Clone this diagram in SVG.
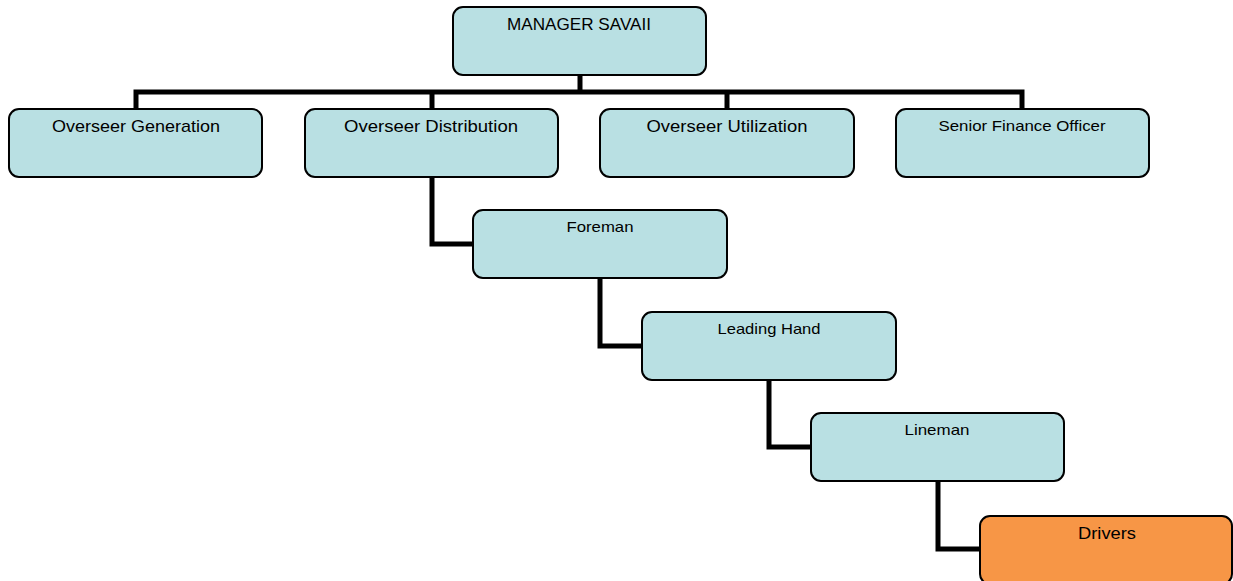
<svg xmlns="http://www.w3.org/2000/svg" width="1233" height="581" viewBox="0 0 1233 581">
<style>
.box{fill:#b9e0e3;stroke:#000;stroke-width:2}
.orange{fill:#f79646;stroke:#000;stroke-width:2}
.lbl{font-family:"Liberation Sans","Open Sans",sans-serif;fill:#000;text-anchor:middle}
.l16{font-size:17px}
.l14{font-size:15px}
.conn{fill:none;stroke:#000;stroke-width:5}
</style>
<rect width="1233" height="581" fill="#fff"/>
<g id="connectors">
<path class="conn" d="M580,75 V92"/>
<path class="conn" d="M136,109 V92 H1022 V109"/>
<path class="conn" d="M432,92 V109"/>
<path class="conn" d="M727,92 V109"/>
<path class="conn" d="M432,177 V244 H473"/>
<path class="conn" d="M600,278 V346 H642"/>
<path class="conn" d="M769,380 V447 H811"/>
<path class="conn" d="M938,481 V549 H980"/>
</g>
<g id="manager">
<rect class="box" x="453" y="7" width="253" height="68" rx="10"/>
<text class="lbl l16" x="579" y="30" textLength="144" lengthAdjust="spacingAndGlyphs">MANAGER SAVAII</text>
</g>
<g id="overseer-generation">
<rect class="box" x="9" y="109" width="253" height="68" rx="10"/>
<text class="lbl l16" x="136" y="132" textLength="168" lengthAdjust="spacingAndGlyphs">Overseer Generation</text>
</g>
<g id="overseer-distribution">
<rect class="box" x="305" y="109" width="253" height="68" rx="10"/>
<text class="lbl l16" x="431" y="132" textLength="174" lengthAdjust="spacingAndGlyphs">Overseer Distribution</text>
</g>
<g id="overseer-utilization">
<rect class="box" x="600" y="109" width="254" height="68" rx="10"/>
<text class="lbl l16" x="727" y="132" textLength="161" lengthAdjust="spacingAndGlyphs">Overseer Utilization</text>
</g>
<g id="senior-finance-officer">
<rect class="box" x="896" y="109" width="253" height="68" rx="10"/>
<text class="lbl l14" x="1022" y="131" textLength="167" lengthAdjust="spacingAndGlyphs">Senior Finance Officer</text>
</g>
<g id="foreman">
<rect class="box" x="473" y="210" width="254" height="68" rx="10"/>
<text class="lbl l14" x="600" y="232" textLength="67" lengthAdjust="spacingAndGlyphs">Foreman</text>
</g>
<g id="leading-hand">
<rect class="box" x="642" y="312" width="254" height="68" rx="10"/>
<text class="lbl l14" x="769" y="334" textLength="103" lengthAdjust="spacingAndGlyphs">Leading Hand</text>
</g>
<g id="lineman">
<rect class="box" x="811" y="413" width="253" height="68" rx="10"/>
<text class="lbl l14" x="937" y="435" textLength="65" lengthAdjust="spacingAndGlyphs">Lineman</text>
</g>
<g id="drivers">
<rect class="orange" x="980" y="516" width="252" height="68" rx="10"/>
<text class="lbl l16" x="1107" y="539" textLength="58" lengthAdjust="spacingAndGlyphs">Drivers</text>
</g>
</svg>
